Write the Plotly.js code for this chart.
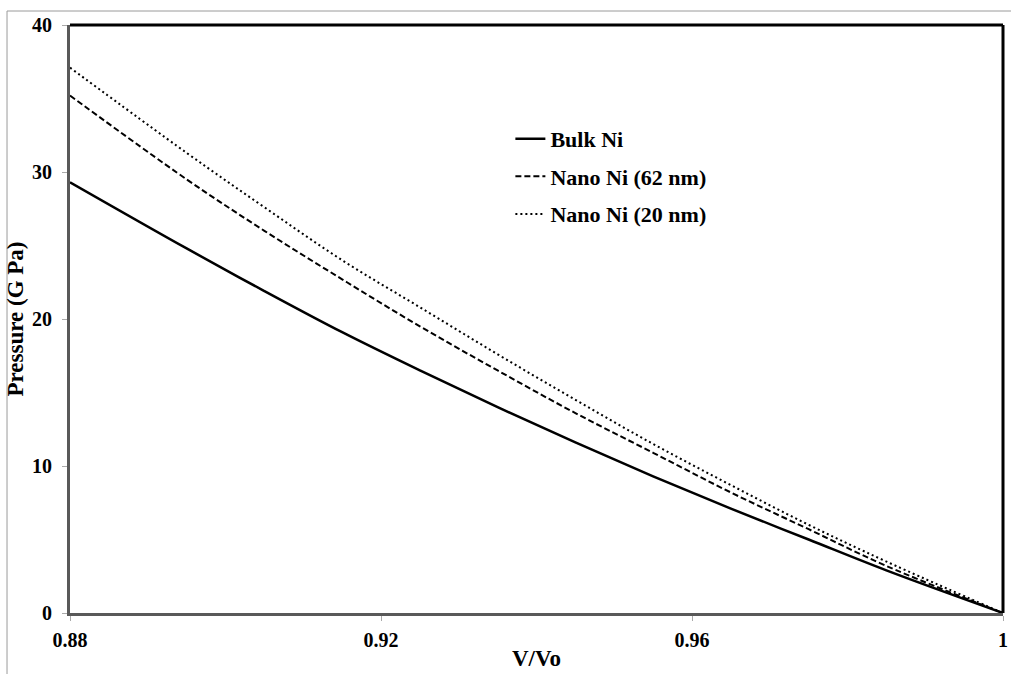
<!DOCTYPE html>
<html>
<head>
<meta charset="utf-8">
<script src="https://cdn.plot.ly/plotly-3.0.1.min.js"></script>
<style>html,body{margin:0;padding:0;background:#fff;}#chart{width:1011px;height:674px;}</style>
</head>
<body>
<div id="chart"></div>
<script>
var vRatio = [0.88, 0.895, 0.905, 0.915, 0.925, 0.935, 0.945, 0.955, 0.965, 0.975, 0.985, 1.0];
var bulkNi = [29.3, 24.8, 21.9, 19.1, 16.5, 14.0, 11.6, 9.3, 7.1, 5.0, 2.9, 0];
var nano62 = [35.2, 29.5, 26.0, 22.7, 19.5, 16.5, 13.6, 10.9, 8.2, 5.7, 3.2, 0];
var nano20 = [37.1, 31.3, 27.6, 24.0, 20.8, 17.6, 14.5, 11.5, 8.7, 6.0, 3.5, 0];
var seriesNames = ['Bulk Ni', 'Nano Ni (62 nm)', 'Nano Ni (20 nm)'];
var xTicks = [0.88, 0.92, 0.96, 1];
var xTickText = ['0.88', '0.92', '0.96', '1'];
var yTicks = [0, 10, 20, 30, 40];

var fontFam = '"Liberation Serif", "Times New Roman", serif';

var traces = [
  {x: vRatio, y: bulkNi, name: seriesNames[0], mode: 'lines', legendgroup: 'a',
   line: {color: '#000', width: 2.5, dash: 'solid', shape: 'spline', smoothing: 1}},
  {x: vRatio, y: nano62, name: seriesNames[1], mode: 'lines', legendgroup: 'b',
   line: {color: '#000', width: 2, dash: '6px,3px', shape: 'spline', smoothing: 1}},
  {x: vRatio, y: nano20, name: seriesNames[2], mode: 'lines', legendgroup: 'c',
   line: {color: '#000', width: 2, dash: '2px,3px', shape: 'spline', smoothing: 1}}
];

var layout = {
  width: 1011, height: 674,
  margin: {l: 70, r: 8, t: 25, b: 61},
  paper_bgcolor: '#fff', plot_bgcolor: '#fff',
  font: {family: fontFam, color: '#000'},
  showlegend: true,
  legend: {x: 0.472, y: 0.842, xanchor: 'left', yanchor: 'top',
           font: {family: fontFam, size: 22, color: '#000', weight: 'bold'},
           bgcolor: 'rgba(0,0,0,0)', tracegroupgap: 6, itemwidth: 30},
  xaxis: {range: [0.88, 1], tickvals: xTicks, ticktext: xTickText,
          showgrid: false, zeroline: false, showline: true, linecolor: '#595959', linewidth: 3,
          ticks: 'outside', ticklen: 5, tickcolor: '#aaa', tickwidth: 1, ticklabelstandoff: 2,
          tickfont: {family: fontFam, size: 20, weight: 'bold'},
          title: {text: 'V/Vo', font: {family: fontFam, size: 23, weight: 'bold'}, standoff: 0}},
  yaxis: {range: [0, 40], tickvals: yTicks,
          showgrid: false, zeroline: false, showline: true, linecolor: '#595959', linewidth: 3,
          ticks: 'outside', ticklen: 5, tickcolor: '#aaa', tickwidth: 1, ticklabelstandoff: 6,
          tickfont: {family: fontFam, size: 20, weight: 'bold'},
          title: {text: 'Pressure (G Pa)', font: {family: fontFam, size: 23, weight: 'bold'}, standoff: 2}},
  shapes: [
    {type: 'rect', xref: 'paper', yref: 'paper', x0: -0.0675, x1: 1.3, y0: -0.3, y1: 1.0238,
     line: {color: '#9a9a9a', width: 1}, layer: 'below'},
    {type: 'line', xref: 'paper', yref: 'paper', x0: 0, x1: 1, y0: 1, y1: 1,
     line: {color: '#000', width: 3}},
    {type: 'line', xref: 'paper', yref: 'paper', x0: 1, x1: 1, y0: 0, y1: 1,
     line: {color: '#000', width: 3}}
  ]
};

Plotly.newPlot('chart', traces, layout, {displayModeBar: false, staticPlot: true});
</script>
</body>
</html>
